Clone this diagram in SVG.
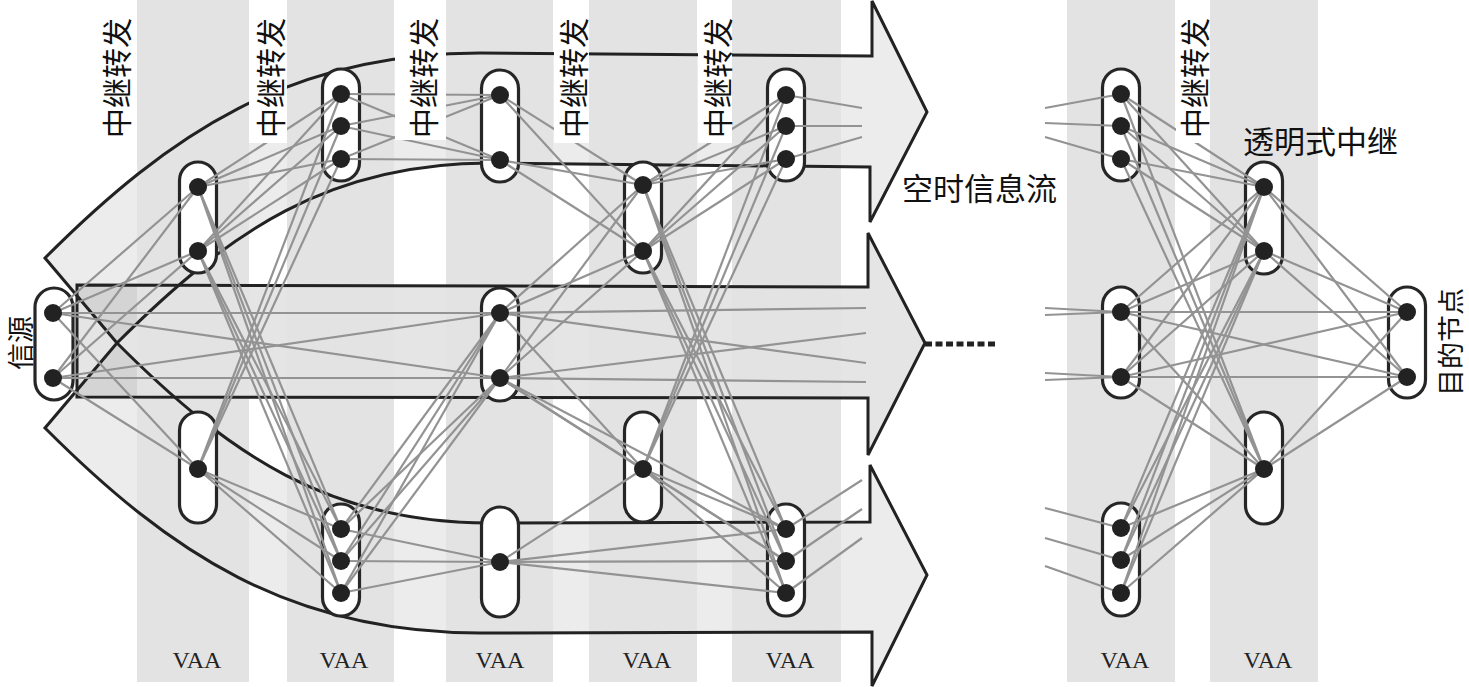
<svg xmlns="http://www.w3.org/2000/svg" xmlns:xlink="http://www.w3.org/1999/xlink" width="1469" height="687" viewBox="0 0 1469 687">
<style>
.band{fill:#e3e3e3}
.afill{fill:#000;fill-opacity:0.075}
.mfill{fill:#000;fill-opacity:0.1}
.aline{fill:none;stroke:#222;stroke-width:3}
.cap{fill:#fff;stroke:#262626;stroke-width:3.2}
.dot{fill:#222}
#connectors line{stroke:#939393;stroke-width:2.2}
.lbl{font-family:"Noto Sans CJK SC","Noto Sans CJK JP",sans-serif;font-size:30px;fill:#111}
.edge{font-family:"Noto Sans CJK SC","Noto Sans CJK JP",sans-serif;font-size:27px;fill:#111}
.big{font-family:"Noto Sans CJK SC","Noto Sans CJK JP",sans-serif;font-size:31px;fill:#111}
.vaa{font-family:"Liberation Serif",serif;font-size:24px;fill:#222;text-anchor:middle}
.wbox{fill:#fff}
</style>
<defs>
<path id="arrTop" d="M45,258 C170,133 290,53 480,53 L872,56 L872,1 L927,112 L870,222 L870,167 L490,163 C330,163 230,230 117,343 Z"/>
<path id="arrBot" d="M45,428 C170,553 290,633 480,633 L872,632 L872,686 L927,575 L870,465 L870,522 L490,523 C330,523 230,456 117,343 Z"/>
<path id="arrMid" d="M77,285 L868,287 L868,233 L925,343 L868,455 L868,398 L77,397 Z"/>
</defs>
<rect width="1469" height="687" fill="#fff"/>
<g id="arrow-fills">
<use xlink:href="#arrTop" class="afill"/>
<use xlink:href="#arrBot" class="afill"/>
<use xlink:href="#arrMid" class="mfill"/>
</g>
<g id="bands">
<rect class="band" x="137" y="0" width="112" height="682"/>
<rect class="band" x="287" y="0" width="107" height="682"/>
<rect class="band" x="446" y="0" width="107" height="682"/>
<rect class="band" x="589" y="0" width="108" height="682"/>
<rect class="band" x="732" y="0" width="109" height="682"/>
<rect class="band" x="1067" y="0" width="108" height="682"/>
<rect class="band" x="1210" y="0" width="108" height="682"/>
</g>
<g id="arrows">
<use xlink:href="#arrTop" class="aline"/>
<use xlink:href="#arrBot" class="aline"/>
<use xlink:href="#arrMid" class="aline"/>
<line x1="925" y1="344" x2="997" y2="344" stroke="#222" stroke-width="5" stroke-dasharray="7 3.5"/>
</g>
<g id="node-shapes">
<g id="node-source"><rect class="cap" x="35" y="288" width="38" height="112" rx="19"/></g>
<g id="node-A-top"><rect class="cap" x="179.5" y="162" width="37" height="111" rx="18.5"/></g>
<g id="node-A-bot"><rect class="cap" x="179.5" y="412" width="37" height="111" rx="18.5"/></g>
<g id="node-B-top"><rect class="cap" x="322.5" y="69" width="37" height="112" rx="18.5"/></g>
<g id="node-B-bot"><rect class="cap" x="322.5" y="504" width="37" height="112" rx="18.5"/></g>
<g id="node-C-top"><rect class="cap" x="481.5" y="70" width="37" height="112" rx="18.5"/></g>
<g id="node-C-mid"><rect class="cap" x="481.5" y="288" width="37" height="113" rx="18.5"/></g>
<g id="node-C-bot"><rect class="cap" x="481.5" y="507" width="37" height="110" rx="18.5"/></g>
<g id="node-D-top"><rect class="cap" x="624.5" y="162" width="37" height="111" rx="18.5"/></g>
<g id="node-D-bot"><rect class="cap" x="624.5" y="412" width="37" height="110" rx="18.5"/></g>
<g id="node-E-top"><rect class="cap" x="767.5" y="69" width="37" height="112" rx="18.5"/></g>
<g id="node-E-bot"><rect class="cap" x="767.5" y="504" width="37" height="112" rx="18.5"/></g>
<g id="node-F-top"><rect class="cap" x="1102.5" y="69" width="37" height="112" rx="18.5"/></g>
<g id="node-F-mid"><rect class="cap" x="1102.5" y="287" width="37" height="111" rx="18.5"/></g>
<g id="node-F-bot"><rect class="cap" x="1102.5" y="503" width="37" height="113" rx="18.5"/></g>
<g id="node-G-top"><rect class="cap" x="1245.5" y="162" width="37" height="112" rx="18.5"/></g>
<g id="node-G-bot"><rect class="cap" x="1245.5" y="412" width="37" height="112" rx="18.5"/></g>
<g id="node-dest"><rect class="cap" x="1388.5" y="287" width="37" height="111" rx="18.5"/></g>
</g>
<g id="connectors">
<line x1="53" y1="313" x2="198" y2="187"/><line x1="53" y1="313" x2="198" y2="251"/><line x1="53" y1="313" x2="198" y2="469"/>
<line x1="53" y1="378" x2="198" y2="187"/><line x1="53" y1="378" x2="198" y2="251"/><line x1="53" y1="378" x2="198" y2="469"/>
<line x1="53" y1="313" x2="500" y2="313"/><line x1="53" y1="313" x2="500" y2="378"/><line x1="53" y1="378" x2="500" y2="313"/><line x1="53" y1="378" x2="500" y2="378"/>
<line x1="198" y1="187" x2="341" y2="94"/><line x1="198" y1="187" x2="341" y2="126"/><line x1="198" y1="187" x2="341" y2="159"/><line x1="198" y1="187" x2="341" y2="529"/><line x1="198" y1="187" x2="341" y2="561"/><line x1="198" y1="187" x2="341" y2="593"/>
<line x1="198" y1="251" x2="341" y2="94"/><line x1="198" y1="251" x2="341" y2="126"/><line x1="198" y1="251" x2="341" y2="159"/><line x1="198" y1="251" x2="341" y2="529"/><line x1="198" y1="251" x2="341" y2="561"/><line x1="198" y1="251" x2="341" y2="593"/>
<line x1="198" y1="469" x2="341" y2="94"/><line x1="198" y1="469" x2="341" y2="126"/><line x1="198" y1="469" x2="341" y2="159"/><line x1="198" y1="469" x2="341" y2="529"/><line x1="198" y1="469" x2="341" y2="561"/><line x1="198" y1="469" x2="341" y2="593"/>
<line x1="341" y1="94" x2="500" y2="95"/><line x1="341" y1="94" x2="500" y2="160"/><line x1="341" y1="126" x2="500" y2="95"/><line x1="341" y1="126" x2="500" y2="160"/><line x1="341" y1="159" x2="500" y2="95"/><line x1="341" y1="159" x2="500" y2="160"/>
<line x1="341" y1="529" x2="500" y2="562"/><line x1="341" y1="561" x2="500" y2="562"/><line x1="341" y1="593" x2="500" y2="562"/>
<line x1="341" y1="529" x2="500" y2="313"/><line x1="341" y1="529" x2="500" y2="378"/><line x1="341" y1="561" x2="500" y2="313"/><line x1="341" y1="561" x2="500" y2="378"/><line x1="341" y1="593" x2="500" y2="313"/><line x1="341" y1="593" x2="500" y2="378"/>
<line x1="500" y1="95" x2="643" y2="185"/><line x1="500" y1="95" x2="643" y2="251"/><line x1="500" y1="160" x2="643" y2="185"/><line x1="500" y1="160" x2="643" y2="251"/>
<line x1="500" y1="562" x2="643" y2="469"/>
<line x1="500" y1="313" x2="643" y2="185"/><line x1="500" y1="313" x2="643" y2="251"/><line x1="500" y1="313" x2="643" y2="469"/>
<line x1="500" y1="378" x2="643" y2="185"/><line x1="500" y1="378" x2="643" y2="251"/><line x1="500" y1="378" x2="643" y2="469"/>
<line x1="500" y1="562" x2="786" y2="529"/><line x1="500" y1="562" x2="786" y2="561"/><line x1="500" y1="562" x2="786" y2="593"/>
<line x1="500" y1="378" x2="786" y2="529"/><line x1="500" y1="378" x2="786" y2="561"/>
<line x1="643" y1="185" x2="786" y2="95"/><line x1="643" y1="185" x2="786" y2="126"/><line x1="643" y1="185" x2="786" y2="159"/><line x1="643" y1="185" x2="786" y2="529"/><line x1="643" y1="185" x2="786" y2="561"/><line x1="643" y1="185" x2="786" y2="593"/>
<line x1="643" y1="251" x2="786" y2="95"/><line x1="643" y1="251" x2="786" y2="126"/><line x1="643" y1="251" x2="786" y2="159"/><line x1="643" y1="251" x2="786" y2="529"/><line x1="643" y1="251" x2="786" y2="561"/><line x1="643" y1="251" x2="786" y2="593"/>
<line x1="643" y1="469" x2="786" y2="95"/><line x1="643" y1="469" x2="786" y2="126"/><line x1="643" y1="469" x2="786" y2="159"/><line x1="643" y1="469" x2="786" y2="529"/><line x1="643" y1="469" x2="786" y2="561"/><line x1="643" y1="469" x2="786" y2="593"/>
<line x1="786" y1="95" x2="862" y2="108"/><line x1="786" y1="126" x2="862" y2="126"/><line x1="786" y1="159" x2="862" y2="137"/>
<line x1="786" y1="529" x2="862" y2="480"/><line x1="786" y1="561" x2="862" y2="509"/><line x1="786" y1="593" x2="862" y2="538"/>
<line x1="500" y1="313" x2="866" y2="308"/><line x1="500" y1="313" x2="866" y2="363"/><line x1="500" y1="378" x2="866" y2="333"/><line x1="500" y1="378" x2="866" y2="382"/>
<line x1="1045" y1="108" x2="1121" y2="94"/><line x1="1045" y1="123" x2="1121" y2="126"/><line x1="1045" y1="137" x2="1121" y2="159"/>
<line x1="1045" y1="308" x2="1121" y2="312"/><line x1="1045" y1="315" x2="1121" y2="312"/><line x1="1045" y1="373" x2="1121" y2="377"/><line x1="1045" y1="380" x2="1121" y2="377"/>
<line x1="1045" y1="508" x2="1121" y2="528"/><line x1="1045" y1="538" x2="1121" y2="560"/><line x1="1045" y1="566" x2="1121" y2="593"/>
<line x1="1121" y1="94" x2="1264" y2="187"/><line x1="1121" y1="94" x2="1264" y2="251"/><line x1="1121" y1="94" x2="1264" y2="469"/>
<line x1="1121" y1="126" x2="1264" y2="187"/><line x1="1121" y1="126" x2="1264" y2="251"/><line x1="1121" y1="126" x2="1264" y2="469"/>
<line x1="1121" y1="159" x2="1264" y2="187"/><line x1="1121" y1="159" x2="1264" y2="251"/><line x1="1121" y1="159" x2="1264" y2="469"/>
<line x1="1121" y1="312" x2="1264" y2="187"/><line x1="1121" y1="312" x2="1264" y2="251"/><line x1="1121" y1="312" x2="1264" y2="469"/>
<line x1="1121" y1="377" x2="1264" y2="187"/><line x1="1121" y1="377" x2="1264" y2="251"/><line x1="1121" y1="377" x2="1264" y2="469"/>
<line x1="1121" y1="528" x2="1264" y2="187"/><line x1="1121" y1="528" x2="1264" y2="251"/><line x1="1121" y1="528" x2="1264" y2="469"/>
<line x1="1121" y1="560" x2="1264" y2="187"/><line x1="1121" y1="560" x2="1264" y2="251"/><line x1="1121" y1="560" x2="1264" y2="469"/>
<line x1="1121" y1="593" x2="1264" y2="187"/><line x1="1121" y1="593" x2="1264" y2="251"/><line x1="1121" y1="593" x2="1264" y2="469"/>
<line x1="1121" y1="312" x2="1407" y2="312"/><line x1="1121" y1="312" x2="1407" y2="377"/><line x1="1121" y1="377" x2="1407" y2="312"/><line x1="1121" y1="377" x2="1407" y2="377"/>
<line x1="1264" y1="187" x2="1407" y2="312"/><line x1="1264" y1="187" x2="1407" y2="377"/><line x1="1264" y1="251" x2="1407" y2="312"/><line x1="1264" y1="251" x2="1407" y2="377"/><line x1="1264" y1="469" x2="1407" y2="312"/><line x1="1264" y1="469" x2="1407" y2="377"/>
</g>
<g id="node-dots">
<g id="node-source-dots"><circle class="dot" cx="53" cy="313" r="9"/><circle class="dot" cx="53" cy="378" r="9"/></g>
<g id="node-A-top-dots"><circle class="dot" cx="198" cy="187" r="9"/><circle class="dot" cx="198" cy="251" r="9"/></g>
<g id="node-A-bot-dots"><circle class="dot" cx="198" cy="469" r="9"/></g>
<g id="node-B-top-dots"><circle class="dot" cx="341" cy="94" r="9"/><circle class="dot" cx="341" cy="126" r="9"/><circle class="dot" cx="341" cy="159" r="9"/></g>
<g id="node-B-bot-dots"><circle class="dot" cx="341" cy="529" r="9"/><circle class="dot" cx="341" cy="561" r="9"/><circle class="dot" cx="341" cy="593" r="9"/></g>
<g id="node-C-top-dots"><circle class="dot" cx="500" cy="95" r="9"/><circle class="dot" cx="500" cy="160" r="9"/></g>
<g id="node-C-mid-dots"><circle class="dot" cx="500" cy="313" r="9"/><circle class="dot" cx="500" cy="378" r="9"/></g>
<g id="node-C-bot-dots"><circle class="dot" cx="500" cy="562" r="9"/></g>
<g id="node-D-top-dots"><circle class="dot" cx="643" cy="185" r="9"/><circle class="dot" cx="643" cy="251" r="9"/></g>
<g id="node-D-bot-dots"><circle class="dot" cx="643" cy="469" r="9"/></g>
<g id="node-E-top-dots"><circle class="dot" cx="786" cy="95" r="9"/><circle class="dot" cx="786" cy="126" r="9"/><circle class="dot" cx="786" cy="159" r="9"/></g>
<g id="node-E-bot-dots"><circle class="dot" cx="786" cy="529" r="9"/><circle class="dot" cx="786" cy="561" r="9"/><circle class="dot" cx="786" cy="593" r="9"/></g>
<g id="node-F-top-dots"><circle class="dot" cx="1121" cy="94" r="9"/><circle class="dot" cx="1121" cy="126" r="9"/><circle class="dot" cx="1121" cy="159" r="9"/></g>
<g id="node-F-mid-dots"><circle class="dot" cx="1121" cy="312" r="9"/><circle class="dot" cx="1121" cy="377" r="9"/></g>
<g id="node-F-bot-dots"><circle class="dot" cx="1121" cy="528" r="9"/><circle class="dot" cx="1121" cy="560" r="9"/><circle class="dot" cx="1121" cy="593" r="9"/></g>
<g id="node-G-top-dots"><circle class="dot" cx="1264" cy="187" r="9"/><circle class="dot" cx="1264" cy="251" r="9"/></g>
<g id="node-G-bot-dots"><circle class="dot" cx="1264" cy="469" r="9"/></g>
<g id="node-dest-dots"><circle class="dot" cx="1407" cy="312" r="9"/><circle class="dot" cx="1407" cy="377" r="9"/></g>
</g>
<g id="labels">
<rect class="wbox" x="249" y="0" width="38" height="143"/>
<rect class="wbox" x="395" y="0" width="51" height="140"/>
<rect class="wbox" x="554" y="0" width="35" height="143"/>
<rect class="wbox" x="698" y="0" width="34" height="143"/>
<rect class="wbox" x="1176" y="0" width="34" height="143"/>
<text class="lbl" x="115" y="78" text-anchor="middle" dominant-baseline="central" transform="rotate(-90 115 78)">中继转发</text>
<text class="lbl" x="269" y="78" text-anchor="middle" dominant-baseline="central" transform="rotate(-90 269 78)">中继转发</text>
<text class="lbl" x="422" y="78" text-anchor="middle" dominant-baseline="central" transform="rotate(-90 422 78)">中继转发</text>
<text class="lbl" x="572" y="78" text-anchor="middle" dominant-baseline="central" transform="rotate(-90 572 78)">中继转发</text>
<text class="lbl" x="716" y="78" text-anchor="middle" dominant-baseline="central" transform="rotate(-90 716 78)">中继转发</text>
<text class="lbl" x="1193" y="78" text-anchor="middle" dominant-baseline="central" transform="rotate(-90 1193 78)">中继转发</text>
<text class="edge" x="19" y="343" text-anchor="middle" dominant-baseline="central" transform="rotate(-90 19 343)">信源</text>
<text class="edge" x="1449" y="342" text-anchor="middle" dominant-baseline="central" transform="rotate(-90 1449 342)">目的节点</text>
<text class="big" x="902" y="200">空时信息流</text>
<text class="big" x="1243" y="153">透明式中继</text>
<text class="vaa" x="197" y="668">VAA</text>
<text class="vaa" x="344" y="668">VAA</text>
<text class="vaa" x="500" y="668">VAA</text>
<text class="vaa" x="647" y="668">VAA</text>
<text class="vaa" x="790" y="668">VAA</text>
<text class="vaa" x="1125" y="668">VAA</text>
<text class="vaa" x="1268" y="668">VAA</text>
</g>
</svg>
